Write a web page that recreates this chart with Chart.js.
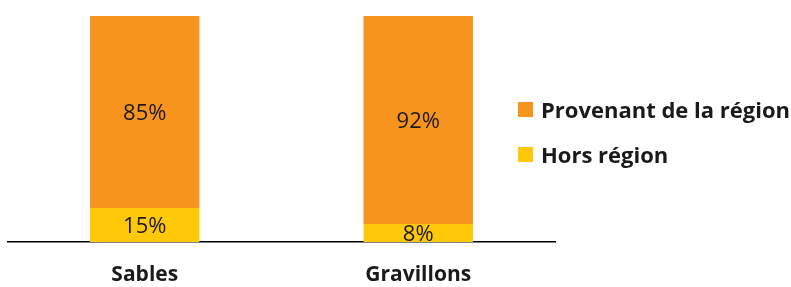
<!DOCTYPE html>
<html>
<head>
<meta charset="utf-8">
<script src="https://cdn.jsdelivr.net/npm/chart.js@4"></script>
<style>
    html, body { margin: 0; padding: 0; background: #fff; }
    #wrap { position: relative; width: 791px; height: 287px; }
    #legend { position: absolute; left: 518px; top: 94px; font-family: "Open Sans", sans-serif; font-weight: bold; font-size: 22px; color: #1a1a1a; }
    #legend div { display: flex; align-items: center; height: 30px; margin-bottom: 15px; white-space: nowrap; }
    #legend span.box { display: inline-block; width: 15px; height: 15px; margin-right: 8px; }
</style>
</head>
<body>
<div id="wrap">
    <canvas id="chart" width="791" height="287"></canvas>
    <div id="legend"></div>
</div>
<script>
const categories = ['Sables', 'Gravillons'];
const seriesNames = ['Hors région', 'Provenant de la région'];
const horsRegion = [15, 8];
const provenant = [85, 92];
const colors = ['#FFC90A', '#F7941E'];

// Étiquettes de valeur au centre de chaque segment
const valueLabels = {
    id: 'valueLabels',
    afterDatasetsDraw(chart) {
        const ctx = chart.ctx;
        ctx.save();
        ctx.font = '22px "Open Sans", sans-serif';
        ctx.fillStyle = '#1a1a1a';
        ctx.textAlign = 'center';
        ctx.textBaseline = 'middle';
        chart.data.datasets.forEach((ds, i) => {
            chart.getDatasetMeta(i).data.forEach((bar, j) => {
                const y = (bar.y + bar.base) / 2;
                ctx.fillText(ds.data[j] + '%', bar.x, y + 2);
            });
        });
        ctx.restore();
    }
};

new Chart(document.getElementById('chart'), {
    type: 'bar',
    data: {
        labels: categories,
        datasets: [{
            label: seriesNames[0],
            data: horsRegion,
            backgroundColor: colors[0]
        }, {
            label: seriesNames[1],
            data: provenant,
            backgroundColor: colors[1]
        }]
    },
    options: {
        responsive: false,
        animation: false,
        layout: { padding: { left: 8, right: 236, top: 16, bottom: 0 } },
        datasets: {
            bar: { categoryPercentage: 1, barPercentage: 0.4 }
        },
        plugins: {
            legend: { display: false },
            tooltip: { enabled: false }
        },
        scales: {
            x: {
                stacked: true,
                grid: { display: false },
                border: { display: true, color: '#000', width: 1.5 },
                ticks: {
                    color: '#1a1a1a',
                    padding: 12,
                    font: { family: '"Open Sans", sans-serif', size: 21, weight: 'bold' }
                },
                afterFit(axis) { axis.height = 45; }
            },
            y: {
                stacked: true,
                min: 0,
                max: 100,
                display: false
            }
        }
    },
    plugins: [valueLabels]
});

// Légende
const legend = document.getElementById('legend');
[1, 0].forEach(i => {
    const row = document.createElement('div');
    row.innerHTML = '<span class="box" style="background:' + colors[i] + '"></span>' + seriesNames[i];
    legend.appendChild(row);
});
</script>
</body>
</html>
